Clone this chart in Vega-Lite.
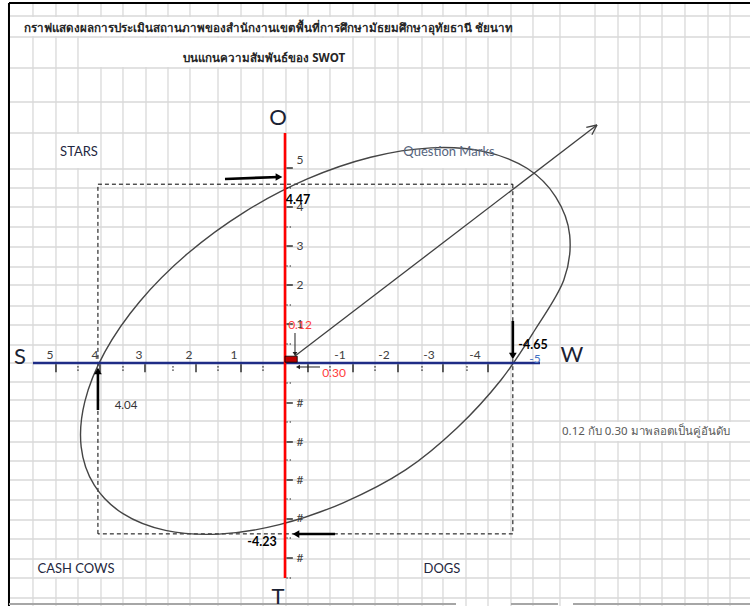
{
"$schema": "https://vega.github.io/schema/vega-lite/v6.json",
"width": 750, "height": 606, "padding": 0, "autosize": {"type": "none"},
"background": "white",
"config": {"view": {"stroke": null}, "text": {"font": "Lato"}},
"layer": [
{"data": {"values": [{"x":5.443},{"x":4.946},{"x":4.471},{"x":3.974},{"x":3.499},{"x":3.002},{"x":2.527},{"x":2.052},{"x":1.447},{"x":0.950},{"x":0.475},{"x":-0.020},{"x":-0.469},{"x":-0.918},{"x":-1.388},{"x":-1.837},{"x":-2.306},{"x":-2.796},{"x":-3.224},{"x":-3.694},{"x":-4.143},{"x":-4.612},{"x":-5.061},{"x":-5.612},{"x":-6.327},{"x":-6.796},{"x":-7.245},{"x":-7.694},{"x":-8.163},{"x":-8.633},{"x":-9.082}]},
 "mark": {"type": "rule", "color": "#d9d9d9", "strokeWidth": 1.3},
 "encoding": {"x": {"field": "x", "type": "quantitative", "scale": {"domain": [-9.49, 0, 6.155], "range": [750, 285, 0], "nice": false, "zero": false}, "axis": null}}},
{"data": {"values": [{"y":8.675},{"y":8.15},{"y":7.375},{"y":6.525},{"y":5.75},{"y":4.85},{"y":4.375},{"y":3.9},{"y":3.4},{"y":2.9},{"y":2.4},{"y":1.95},{"y":1.425},{"y":0.95},{"y":0.45},{"y":0},{"y":-0.470},{"y":-0.916},{"y":-1.436},{"y":-1.955},{"y":-2.426},{"y":-2.896},{"y":-3.391},{"y":-3.886},{"y":-4.356},{"y":-4.851},{"y":-5.322},{"y":-5.817}]},
 "mark": {"type": "rule", "color": "#d9d9d9", "strokeWidth": 1.3},
 "encoding": {"y": {"field": "y", "type": "quantitative", "scale": {"domain": [-6.015, 0, 9.075], "range": [606, 363, 0], "nice": false, "zero": false}, "axis": null}}},
{"data": {"values": [
  {"x":6.155,"x2":5.961,"y":9.075,"y2":-6.015},
  {"x":6.155,"x2":-9.49,"y":9.075,"y2":9.0},
  {"x":5.616,"x2":-4.571,"y":8.65,"y2":8.175},
  {"x":4.449,"x2":-1.367,"y":8.125,"y2":7.4},
  {"x":4.924,"x2":3.996,"y":5.725,"y2":4.875},
  {"x":-2.327,"x2":-4.592,"y":5.725,"y2":4.875},
  {"x":5.421,"x2":3.521,"y":-4.876,"y2":-5.297},
  {"x":-2.816,"x2":-3.673,"y":-4.876,"y2":-5.297},
  {"x":-5.633,"x2":-9.49,"y":-1.460,"y2":-1.931}]},
 "mark": {"type": "rect", "fill": "white"},
 "encoding": {"x": {"field": "x", "type": "quantitative", "scale": {"domain": [-9.49, 0, 6.155], "range": [750, 285, 0], "nice": false, "zero": false}, "axis": null}, "x2": {"field": "x2"},
   "y": {"field": "y", "type": "quantitative", "scale": {"domain": [-6.015, 0, 9.075], "range": [606, 363, 0], "nice": false, "zero": false}, "axis": null}, "y2": {"field": "y2"}}},
{"data": {"values": [{"x":5.961,"y":9.0,"x2":5.961,"y2":-6.015},{"x":5.961,"y":9.0,"x2":-9.49,"y2":9.0}]},
 "mark": {"type": "rule", "color": "#000000", "strokeWidth": 2},
 "encoding": {"x": {"field": "x", "type": "quantitative", "scale": {"domain": [-9.49, 0, 6.155], "range": [750, 285, 0], "nice": false, "zero": false}, "axis": null}, "x2": {"field": "x2"},
   "y": {"field": "y", "type": "quantitative", "scale": {"domain": [-6.015, 0, 9.075], "range": [606, 363, 0], "nice": false, "zero": false}, "axis": null}, "y2": {"field": "y2"}}},
{"data": {"values": [{"x":5.961,"y":-5.965,"x2":-3.490,"y2":-5.965},{"x":-4.612,"y":-5.965,"x2":-5.571,"y2":-5.965},{"x":-5.878,"y":-5.965,"x2":-9.49,"y2":-5.965}]},
 "mark": {"type": "rule", "color": "#a6a6a6", "strokeWidth": 2},
 "encoding": {"x": {"field": "x", "type": "quantitative", "scale": {"domain": [-9.49, 0, 6.155], "range": [750, 285, 0], "nice": false, "zero": false}, "axis": null}, "x2": {"field": "x2"},
   "y": {"field": "y", "type": "quantitative", "scale": {"domain": [-6.015, 0, 9.075], "range": [606, 363, 0], "nice": false, "zero": false}, "axis": null}, "y2": {"field": "y2"}}},
{"data": {"values": [{"x":4.04,"y":4.47,"x2":-4.65,"y2":4.47},{"x":-4.65,"y":4.47,"x2":-4.65,"y2":-4.23},{"x":-4.65,"y":-4.23,"x2":4.04,"y2":-4.23},{"x":4.04,"y":-4.23,"x2":4.04,"y2":4.47}]},
 "mark": {"type": "rule", "color": "#000000", "strokeWidth": 1, "strokeDash": [4, 3]},
 "encoding": {"x": {"field": "x", "type": "quantitative", "scale": {"domain": [-9.49, 0, 6.155], "range": [750, 285, 0], "nice": false, "zero": false}, "axis": null}, "x2": {"field": "x2"},
   "y": {"field": "y", "type": "quantitative", "scale": {"domain": [-6.015, 0, 9.075], "range": [606, 363, 0], "nice": false, "zero": false}, "axis": null}, "y2": {"field": "y2"}}},
{"data": {"values": [
  {"i":1,"x":-5.524,"y":4.155},{"i":2,"x":-5.810,"y":3.198},{"i":3,"x":-5.690,"y":2.075},{"i":4,"x":-5.100,"y":0.825},{"i":5,"x":-4.408,"y":-0.421},{"i":6,"x":-3.510,"y":-1.609},{"i":7,"x":-2.461,"y":-2.646},{"i":8,"x":-1.188,"y":-3.460},{"i":9,"x":0.121,"y":-4.002},{"i":10,"x":1.428,"y":-4.235},{"i":11,"x":2.581,"y":-4.144},{"i":12,"x":3.499,"y":-3.730},{"i":13,"x":4.119,"y":-3.025},{"i":14,"x":4.402,"y":-2.077},{"i":15,"x":4.322,"y":-0.950},{"i":16,"x":3.890,"y":0.278},{"i":17,"x":3.136,"y":1.538},{"i":18,"x":2.108,"y":2.730},{"i":19,"x":0.877,"y":3.773},{"i":20,"x":-0.445,"y":4.595},{"i":21,"x":-1.747,"y":5.143},{"i":22,"x":-2.982,"y":5.378},{"i":23,"x":-4.071,"y":5.285},{"i":24,"x":-4.939,"y":4.868}]},
 "mark": {"type": "line", "interpolate": "cardinal-closed", "color": "#454545", "strokeWidth": 1.4},
 "encoding": {"x": {"field": "x", "type": "quantitative", "scale": {"domain": [-9.49, 0, 6.155], "range": [750, 285, 0], "nice": false, "zero": false}, "axis": null},
   "y": {"field": "y", "type": "quantitative", "scale": {"domain": [-6.015, 0, 9.075], "range": [606, 363, 0], "nice": false, "zero": false}, "axis": null},
   "order": {"field": "i", "type": "quantitative"}}},
{"data": {"values": [{"x":5.443,"y":0,"x2":-5.204,"y2":0}]},
 "mark": {"type": "rule", "color": "#1f2d86", "strokeWidth": 2.6},
 "encoding": {"x": {"field": "x", "type": "quantitative", "scale": {"domain": [-9.49, 0, 6.155], "range": [750, 285, 0], "nice": false, "zero": false}, "axis": null}, "x2": {"field": "x2"},
   "y": {"field": "y", "type": "quantitative", "scale": {"domain": [-6.015, 0, 9.075], "range": [606, 363, 0], "nice": false, "zero": false}, "axis": null}, "y2": {"field": "y2"}}},
{"data": {"values": [{"x":0,"y":5.75,"x2":0,"y2":-5.322}]},
 "mark": {"type": "rule", "color": "#ff0000", "strokeWidth": 2.6},
 "encoding": {"x": {"field": "x", "type": "quantitative", "scale": {"domain": [-9.49, 0, 6.155], "range": [750, 285, 0], "nice": false, "zero": false}, "axis": null}, "x2": {"field": "x2"},
   "y": {"field": "y", "type": "quantitative", "scale": {"domain": [-6.015, 0, 9.075], "range": [606, 363, 0], "nice": false, "zero": false}, "axis": null}, "y2": {"field": "y2"}}},
{"data": {"values": [{"x":4.946},{"x":3.996},{"x":3.024},{"x":1.922},{"x":0.950},{"x":-0.469},{"x":-1.388},{"x":-2.306},{"x":-3.224},{"x":-4.143}]},
 "mark": {"type": "rule", "color": "#000000", "strokeWidth": 1.2},
 "encoding": {"x": {"field": "x", "type": "quantitative", "scale": {"domain": [-9.49, 0, 6.155], "range": [750, 285, 0], "nice": false, "zero": false}, "axis": null},
   "y": {"datum": -0.03, "type": "quantitative", "scale": {"domain": [-6.015, 0, 9.075], "range": [606, 363, 0], "nice": false, "zero": false}, "axis": null}, "y2": {"datum": -0.23}}},
{"data": {"values": [{"x":4.471},{"x":3.499},{"x":2.419},{"x":1.447},{"x":0.475},{"x":-0.918},{"x":-1.837},{"x":-2.796},{"x":-3.714}]},
 "mark": {"type": "rule", "color": "#000000", "strokeWidth": 1.2, "strokeDash": [1.2, 2]},
 "encoding": {"x": {"field": "x", "type": "quantitative", "scale": {"domain": [-9.49, 0, 6.155], "range": [750, 285, 0], "nice": false, "zero": false}, "axis": null},
   "y": {"datum": -0.08, "type": "quantitative", "scale": {"domain": [-6.015, 0, 9.075], "range": [606, 363, 0], "nice": false, "zero": false}, "axis": null}, "y2": {"datum": -0.23}}},
{"data": {"values": [{"y":4.875},{"y":3.9},{"y":2.925},{"y":1.95},{"y":0.975},{"y":-0.990},{"y":-1.955},{"y":-2.896},{"y":-3.861},{"y":-4.827}]},
 "mark": {"type": "rule", "color": "#000000", "strokeWidth": 1.2},
 "encoding": {"y": {"field": "y", "type": "quantitative", "scale": {"domain": [-6.015, 0, 9.075], "range": [606, 363, 0], "nice": false, "zero": false}, "axis": null},
   "x": {"datum": -0.03, "type": "quantitative", "scale": {"domain": [-9.49, 0, 6.155], "range": [750, 285, 0], "nice": false, "zero": false}, "axis": null}, "x2": {"datum": -0.16}}},
{"data": {"values": [{"y":4.375},{"y":3.4},{"y":2.425},{"y":1.45},{"y":0.475},{"y":-0.495},{"y":-1.460},{"y":-2.401},{"y":-3.366},{"y":-4.332},{"y":-5.322}]},
 "mark": {"type": "rule", "color": "#000000", "strokeWidth": 1.2, "strokeDash": [1.2, 2]},
 "encoding": {"y": {"field": "y", "type": "quantitative", "scale": {"domain": [-6.015, 0, 9.075], "range": [606, 363, 0], "nice": false, "zero": false}, "axis": null},
   "x": {"datum": -0.03, "type": "quantitative", "scale": {"domain": [-9.49, 0, 6.155], "range": [750, 285, 0], "nice": false, "zero": false}, "axis": null}, "x2": {"datum": -0.16}}},
{"data": {"values": [{"x":0,"x2":-0.25,"y":0.02,"y2":0.17}]},
 "mark": {"type": "rect", "fill": "#c00000", "stroke": "#000000", "strokeWidth": 0.8},
 "encoding": {"x": {"field": "x", "type": "quantitative", "scale": {"domain": [-9.49, 0, 6.155], "range": [750, 285, 0], "nice": false, "zero": false}, "axis": null}, "x2": {"field": "x2"},
   "y": {"field": "y", "type": "quantitative", "scale": {"domain": [-6.015, 0, 9.075], "range": [606, 363, 0], "nice": false, "zero": false}, "axis": null}, "y2": {"field": "y2"}}},
{"data": {"values": [{"x":-0.204,"y":0.175,"x2":-6.367,"y2":5.95},{"x":-6.367,"y":5.95,"x2":-6.149,"y2":5.89},{"x":-6.367,"y":5.95,"x2":-6.263,"y2":5.705}]},
 "mark": {"type": "rule", "color": "#404040", "strokeWidth": 1.3},
 "encoding": {"x": {"field": "x", "type": "quantitative", "scale": {"domain": [-9.49, 0, 6.155], "range": [750, 285, 0], "nice": false, "zero": false}, "axis": null}, "x2": {"field": "x2"},
   "y": {"field": "y", "type": "quantitative", "scale": {"domain": [-6.015, 0, 9.075], "range": [606, 363, 0], "nice": false, "zero": false}, "axis": null}, "y2": {"field": "y2"}}},
{"data": {"values": [{"x":1.296,"y":4.60,"x2":0.13,"y2":4.65},{"x":4.04,"y":-1.163,"x2":4.04,"y2":-0.223},{"x":-4.65,"y":1.05,"x2":-4.65,"y2":0.2},{"x":-1.020,"y":-4.233,"x2":-0.245,"y2":-4.233}]},
 "mark": {"type": "rule", "color": "#000000", "strokeWidth": 2.6},
 "encoding": {"x": {"field": "x", "type": "quantitative", "scale": {"domain": [-9.49, 0, 6.155], "range": [750, 285, 0], "nice": false, "zero": false}, "axis": null}, "x2": {"field": "x2"},
   "y": {"field": "y", "type": "quantitative", "scale": {"domain": [-6.015, 0, 9.075], "range": [606, 363, 0], "nice": false, "zero": false}, "axis": null}, "y2": {"field": "y2"}}},
{"data": {"values": [{"x":-0.204,"y":0.75,"x2":-0.204,"y2":0.25},{"x":-0.714,"y":-0.099,"x2":-0.29,"y2":-0.099}]},
 "mark": {"type": "rule", "color": "#202020", "strokeWidth": 1},
 "encoding": {"x": {"field": "x", "type": "quantitative", "scale": {"domain": [-9.49, 0, 6.155], "range": [750, 285, 0], "nice": false, "zero": false}, "axis": null}, "x2": {"field": "x2"},
   "y": {"field": "y", "type": "quantitative", "scale": {"domain": [-6.015, 0, 9.075], "range": [606, 363, 0], "nice": false, "zero": false}, "axis": null}, "y2": {"field": "y2"}}},
{"data": {"values": [{"x":0.13,"y":4.65,"d":"right"},{"x":4.04,"y":-0.198,"d":"up"},{"x":-4.65,"y":0.175,"d":"down"},{"x":-0.224,"y":-4.233,"d":"left"}]},
 "mark": {"type": "point", "filled": true, "color": "#000000", "opacity": 1, "size": 60},
 "encoding": {"x": {"field": "x", "type": "quantitative", "scale": {"domain": [-9.49, 0, 6.155], "range": [750, 285, 0], "nice": false, "zero": false}, "axis": null},
   "y": {"field": "y", "type": "quantitative", "scale": {"domain": [-6.015, 0, 9.075], "range": [606, 363, 0], "nice": false, "zero": false}, "axis": null},
   "shape": {"field": "d", "type": "nominal", "scale": {"domain": ["up", "down", "left", "right"], "range": ["triangle-up", "triangle-down", "triangle-left", "triangle-right"]}, "legend": null}}},
{"data": {"values": [{"x":-0.204,"y":0.225,"d":"down"},{"x":-0.265,"y":-0.099,"d":"left"}]},
 "mark": {"type": "point", "filled": true, "color": "#202020", "opacity": 1, "size": 22},
 "encoding": {"x": {"field": "x", "type": "quantitative", "scale": {"domain": [-9.49, 0, 6.155], "range": [750, 285, 0], "nice": false, "zero": false}, "axis": null},
   "y": {"field": "y", "type": "quantitative", "scale": {"domain": [-6.015, 0, 9.075], "range": [606, 363, 0], "nice": false, "zero": false}, "axis": null},
   "shape": {"field": "d", "type": "nominal", "scale": {"domain": ["up", "down", "left", "right"], "range": ["triangle-up", "triangle-down", "triangle-left", "triangle-right"]}, "legend": null}}},
{"data": {"values": [{"t":"กราฟแสดงผลการประเมินสถานภาพของสำนักงานเขตพื้นที่การศึกษามัธยมศึกษาอุทัยธานี ชัยนาท","x":0.356,"y":8.35},{"t":"บนแกนความสัมพันธ์ของ  SWOT","x":0.45,"y":7.6}]},
 "mark": {"type": "text", "fontSize": 11.6, "fontWeight": "bold", "color": "#262626", "align": "center", "baseline": "middle", "font": "Tahoma, Noto Sans, sans-serif"},
 "encoding": {"x": {"field": "x", "type": "quantitative", "scale": {"domain": [-9.49, 0, 6.155], "range": [750, 285, 0], "nice": false, "zero": false}, "axis": null},
   "y": {"field": "y", "type": "quantitative", "scale": {"domain": [-6.015, 0, 9.075], "range": [606, 363, 0], "nice": false, "zero": false}, "axis": null},
   "text": {"field": "t"}}},
{"data": {"values": [{"t":"STARS","x":4.449,"y":5.275},{"t":"CASH COWS","x":4.514,"y":-5.099},{"t":"DOGS","x":-3.204,"y":-5.099}]},
 "mark": {"type": "text", "fontSize": 13, "color": "#1f2740", "align": "center", "baseline": "middle"},
 "encoding": {"x": {"field": "x", "type": "quantitative", "scale": {"domain": [-9.49, 0, 6.155], "range": [750, 285, 0], "nice": false, "zero": false}, "axis": null},
   "y": {"field": "y", "type": "quantitative", "scale": {"domain": [-6.015, 0, 9.075], "range": [606, 363, 0], "nice": false, "zero": false}, "axis": null},
   "text": {"field": "t"}}},
{"data": {"values": [{"t":"Question Marks","x":-3.347,"y":5.275}]},
 "mark": {"type": "text", "fontSize": 13, "color": "#56657e", "align": "center", "baseline": "middle"},
 "encoding": {"x": {"field": "x", "type": "quantitative", "scale": {"domain": [-9.49, 0, 6.155], "range": [750, 285, 0], "nice": false, "zero": false}, "axis": null},
   "y": {"field": "y", "type": "quantitative", "scale": {"domain": [-6.015, 0, 9.075], "range": [606, 363, 0], "nice": false, "zero": false}, "axis": null},
   "text": {"field": "t"}}},
{"data": {"values": [{"t":"O","x":0.151,"y":6.125},{"t":"T","x":0.151,"y":-5.792},{"t":"S","x":5.724,"y":0.15},{"t":"W","x":-5.857,"y":0.2}]},
 "mark": {"type": "text", "fontSize": 22, "color": "#1b2233", "align": "center", "baseline": "middle"},
 "encoding": {"x": {"field": "x", "type": "quantitative", "scale": {"domain": [-9.49, 0, 6.155], "range": [750, 285, 0], "nice": false, "zero": false}, "axis": null},
   "y": {"field": "y", "type": "quantitative", "scale": {"domain": [-6.015, 0, 9.075], "range": [606, 363, 0], "nice": false, "zero": false}, "axis": null},
   "text": {"field": "t"}}},
{"data": {"values": [{"t":"5","x":5.076,"y":0.2},{"t":"4","x":4.104,"y":0.2},{"t":"3","x":3.153,"y":0.2},{"t":"2","x":2.073,"y":0.2},{"t":"1","x":1.102,"y":0.2},{"t":"-1","x":-1.122,"y":0.2},{"t":"-2","x":-2.02,"y":0.2},{"t":"-3","x":-2.939,"y":0.2},{"t":"-4","x":-3.878,"y":0.2},
   {"t":"5","x":-0.306,"y":5.075},{"t":"4","x":-0.306,"y":3.9},{"t":"3","x":-0.306,"y":2.925},{"t":"2","x":-0.306,"y":1.95},{"t":"1","x":-0.306,"y":0.975},{"t":"#","x":-0.306,"y":-0.99},{"t":"#","x":-0.306,"y":-1.955},{"t":"#","x":-0.306,"y":-2.896},{"t":"#","x":-0.306,"y":-3.837},{"t":"#","x":-0.306,"y":-4.827}]},
 "mark": {"type": "text", "fontSize": 12, "color": "#404040", "align": "center", "baseline": "middle"},
 "encoding": {"x": {"field": "x", "type": "quantitative", "scale": {"domain": [-9.49, 0, 6.155], "range": [750, 285, 0], "nice": false, "zero": false}, "axis": null},
   "y": {"field": "y", "type": "quantitative", "scale": {"domain": [-6.015, 0, 9.075], "range": [606, 363, 0], "nice": false, "zero": false}, "axis": null},
   "text": {"field": "t"}}},
{"data": {"values": [{"t":"-5","x":-5.102,"y":0.1}]},
 "mark": {"type": "text", "fontSize": 12, "color": "#4472c4", "align": "center", "baseline": "middle"},
 "encoding": {"x": {"field": "x", "type": "quantitative", "scale": {"domain": [-9.49, 0, 6.155], "range": [750, 285, 0], "nice": false, "zero": false}, "axis": null},
   "y": {"field": "y", "type": "quantitative", "scale": {"domain": [-6.015, 0, 9.075], "range": [606, 363, 0], "nice": false, "zero": false}, "axis": null},
   "text": {"field": "t"}}},
{"data": {"values": [{"t":"4.47","x":-0.265,"y":4.075},{"t":"-4.65","x":-5.061,"y":0.45},{"t":"-4.23","x":0.497,"y":-4.431}]},
 "mark": {"type": "text", "fontSize": 12.5, "fontWeight": "bold", "color": "#000000", "align": "center", "baseline": "middle"},
 "encoding": {"x": {"field": "x", "type": "quantitative", "scale": {"domain": [-9.49, 0, 6.155], "range": [750, 285, 0], "nice": false, "zero": false}, "axis": null},
   "y": {"field": "y", "type": "quantitative", "scale": {"domain": [-6.015, 0, 9.075], "range": [606, 363, 0], "nice": false, "zero": false}, "axis": null},
   "text": {"field": "t"}}},
{"data": {"values": [{"t":"4.04","x":3.434,"y":-1.064}]},
 "mark": {"type": "text", "fontSize": 11.5, "color": "#333333", "align": "center", "baseline": "middle"},
 "encoding": {"x": {"field": "x", "type": "quantitative", "scale": {"domain": [-9.49, 0, 6.155], "range": [750, 285, 0], "nice": false, "zero": false}, "axis": null},
   "y": {"field": "y", "type": "quantitative", "scale": {"domain": [-6.015, 0, 9.075], "range": [606, 363, 0], "nice": false, "zero": false}, "axis": null},
   "text": {"field": "t"}}},
{"data": {"values": [{"t":"0.12","x":-0.306,"y":0.95},{"t":"0.30","x":-1.0,"y":-0.248}]},
 "mark": {"type": "text", "fontSize": 12, "color": "#ff3b3b", "align": "center", "baseline": "middle"},
 "encoding": {"x": {"field": "x", "type": "quantitative", "scale": {"domain": [-9.49, 0, 6.155], "range": [750, 285, 0], "nice": false, "zero": false}, "axis": null},
   "y": {"field": "y", "type": "quantitative", "scale": {"domain": [-6.015, 0, 9.075], "range": [606, 363, 0], "nice": false, "zero": false}, "axis": null},
   "text": {"field": "t"}}},
{"data": {"values": [{"t":"0.12 กับ 0.30 มาพลอตเป็นคู่อันดับ","x":-5.653,"y":-1.708}]},
 "mark": {"type": "text", "fontSize": 11.5, "color": "#595959", "align": "left", "baseline": "middle", "font": "Tahoma, Noto Sans, sans-serif"},
 "encoding": {"x": {"field": "x", "type": "quantitative", "scale": {"domain": [-9.49, 0, 6.155], "range": [750, 285, 0], "nice": false, "zero": false}, "axis": null},
   "y": {"field": "y", "type": "quantitative", "scale": {"domain": [-6.015, 0, 9.075], "range": [606, 363, 0], "nice": false, "zero": false}, "axis": null},
   "text": {"field": "t"}}}
]
}
